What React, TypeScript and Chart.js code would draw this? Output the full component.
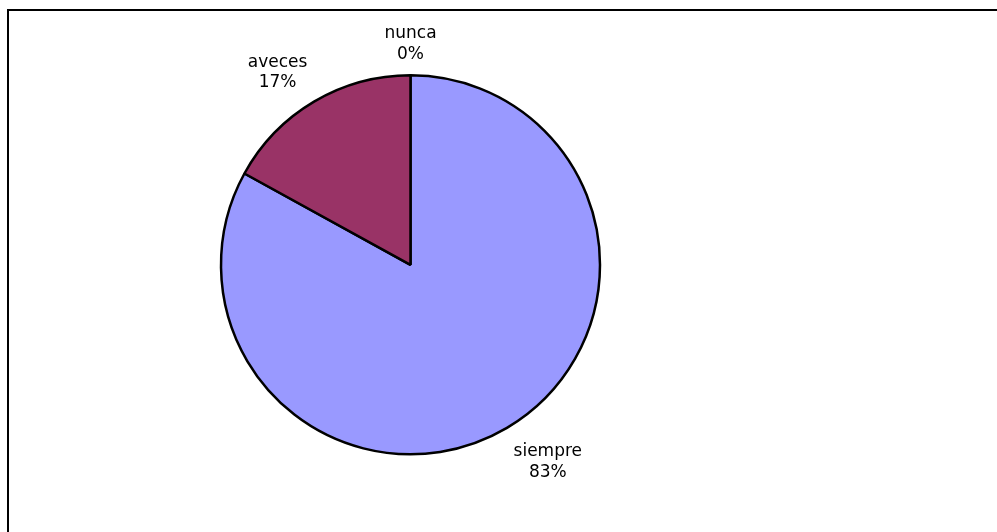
import React, { useEffect, useRef } from "react";
import { Chart, registerables } from "chart.js";

Chart.register(...registerables);

const categories = ["siempre", "aveces", "nunca"];
const values = [83, 17, 0];
const percentLabels = ["83%", "17%", "0%"];
const sliceColors = ["#9999FF", "#993366", "#FFFFCC"];

const FONT = "17px 'DejaVu Sans', Verdana, sans-serif";
const LINE_H = 20.5;
const LABEL_GAP = 13;
const LABEL_DROP = 2.5;

const labelPlugin = {
  id: "excelLabels",
  afterDatasetsDraw(chart: any) {
    const ctx = chart.ctx as CanvasRenderingContext2D;
    const meta = chart.getDatasetMeta(0);
    ctx.save();
    ctx.font = FONT;
    ctx.fillStyle = "#000";
    ctx.textBaseline = "middle";
    ctx.textAlign = "center";
    meta.data.forEach((arc: any, i: number) => {
      const p = arc.getProps(["x", "y", "startAngle", "endAngle", "outerRadius"], true);
      const mid = (p.startAngle + p.endAngle) / 2;
      const dx = Math.cos(mid);
      const dy = Math.sin(mid);
      const r = p.outerRadius + LABEL_GAP;
      const ax = p.x + dx * r;
      const ay = p.y + dy * r + LABEL_DROP;
      const lines = [categories[i], percentLabels[i]];
      const w = Math.max(...lines.map((l) => ctx.measureText(l).width));
      const h = LINE_H * lines.length;
      let left: number;
      if (dx > 0.1) left = ax;
      else if (dx < -0.1) left = ax - w;
      else left = ax - w / 2;
      let top: number;
      if (dy > 0.1) top = ay;
      else if (dy < -0.1) top = ay - h;
      else top = ay - h / 2;
      lines.forEach((l, j) => {
        ctx.fillText(l, left + w / 2, top + LINE_H * (j + 0.5));
      });
    });
    ctx.restore();
  },
};

export default function App() {
  const ref = useRef<HTMLCanvasElement | null>(null);
  useEffect(() => {
    if (!ref.current) return;
    const chart = new Chart(ref.current, {
      type: "pie",
      data: {
        labels: categories,
        datasets: [
          {
            data: values,
            backgroundColor: sliceColors,
            borderColor: "#000000",
            borderWidth: 2.5,
          },
        ],
      },
      options: {
        animation: false,
        responsive: false,
        maintainAspectRatio: false,
        radius: 189.5,
        layout: { padding: { left: 210.5, right: 386.5, top: 64.8, bottom: 67.2 } },
        plugins: {
          legend: { display: false },
          tooltip: { enabled: false },
        },
      },
      plugins: [labelPlugin],
    });
    return () => chart.destroy();
  }, []);

  return (
    <div
      style={{
        position: "fixed",
        left: 0,
        top: 0,
        width: 997,
        height: 532,
        overflow: "hidden",
        background: "#fff",
      }}
    >
      <div
        style={{
          position: "absolute",
          left: 7,
          top: 9,
          width: 1010,
          height: 560,
          border: "2px solid #000",
          boxSizing: "border-box",
        }}
      />
      <canvas
        ref={ref}
        width={997}
        height={532}
        style={{ position: "absolute", left: 0, top: 0, width: 997, height: 532 }}
      />
    </div>
  );
}
